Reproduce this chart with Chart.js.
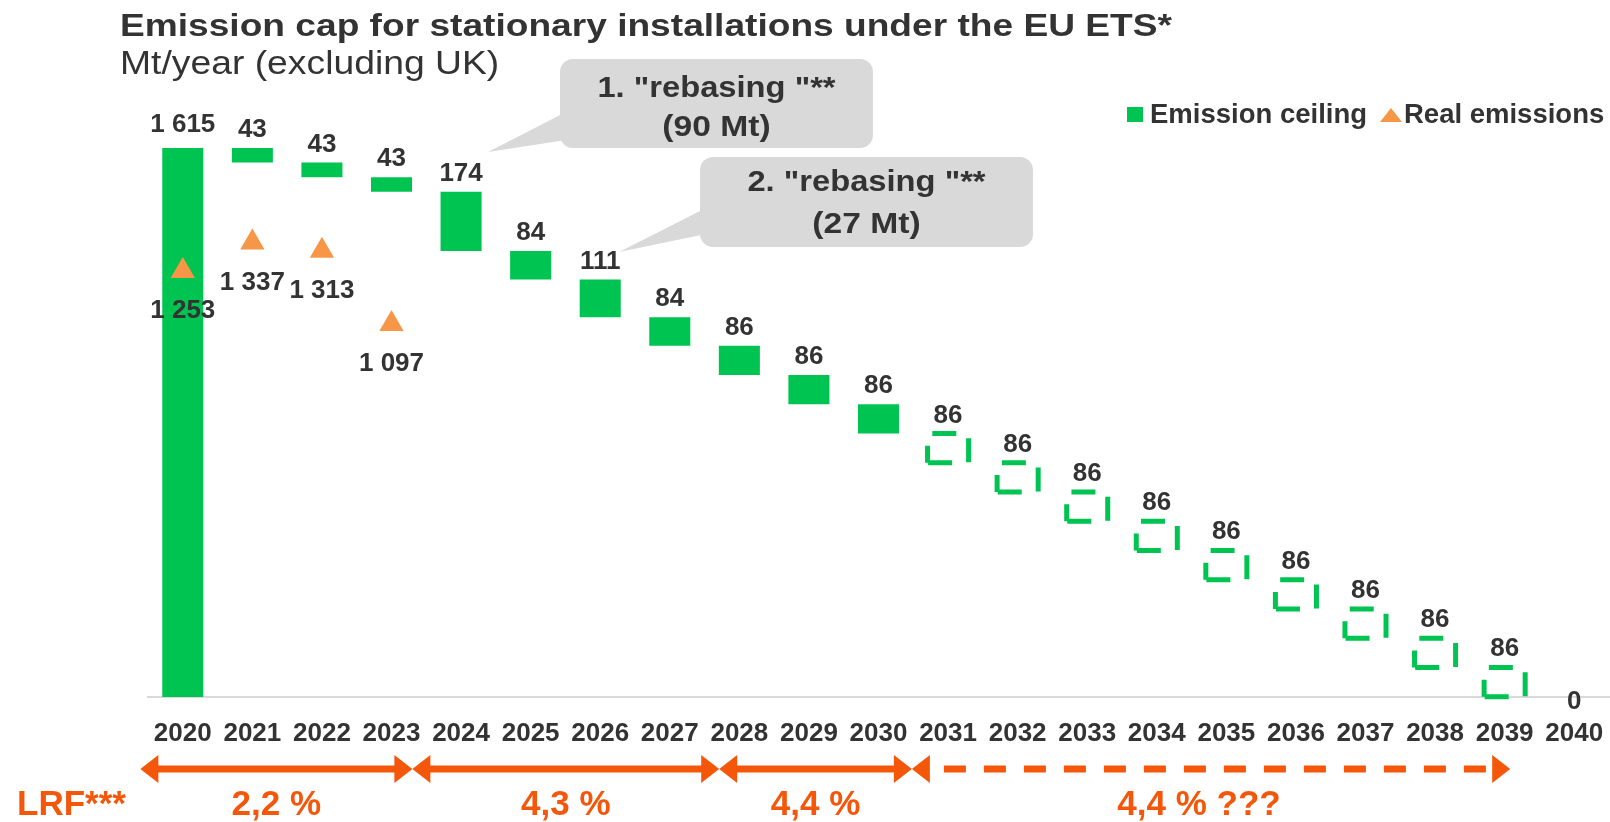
<!DOCTYPE html>
<html>
<head>
<meta charset="utf-8">
<script src="https://cdn.jsdelivr.net/npm/chart.js@4.4.1/dist/chart.umd.min.js"></script>
<style>
  html, body { margin: 0; padding: 0; background: #ffffff; }
  #wrap { width: 1610px; height: 822px; position: relative; }
</style>
</head>
<body>
<div id="wrap"><canvas id="chart" width="1610" height="822"></canvas></div>
<script>
// ---------------- DATA ----------------
const years = ['2020','2021','2022','2023','2024','2025','2026','2027','2028','2029','2030',
               '2031','2032','2033','2034','2035','2036','2037','2038','2039','2040'];
// 2020 = total cap, following years = yearly reduction of the cap (Mt)
const ceilingValues = [1615, 43, 43, 43, 174, 84, 111, 84, 86, 86, 86,
                       86, 86, 86, 86, 86, 86, 86, 86, 86, 0];
const realEmissions = [1253, 1337, 1313, 1097, null, null, null, null, null, null, null,
                       null, null, null, null, null, null, null, null, null, null];
const projectedYears = ['2031','2032','2033','2034','2035','2036','2037','2038','2039'];
const calloutLines = [['1. "rebasing "**', '(90 Mt)'], ['2. "rebasing "**', '(27 Mt)']];
const lrfTitle = 'LRF***';
const lrfLabels = ['2,2 %', '4,3 %', '4,4 %', '4,4 % ???'];

const titleText = 'Emission cap for stationary installations under the EU ETS*';
const subtitleText = 'Mt/year (excluding UK)';
const legendLabels = ['Emission ceiling', 'Real emissions'];

// ---------------- derived table (waterfall) ----------------
let level = ceilingValues[0];
const ceilingBars = years.map((y, i) => {
  if (i === 0) return [0, level];
  const d = ceilingValues[i];
  if (!d) return null;
  const r = [level - d, level];
  level -= d;
  return r;
});

// ---------------- styles ----------------
const GREEN = '#00C451';
const ORANGE_PT = '#F79646';
const ORANGE = '#F4560A';
const TEXT = '#333333';
const FONT = '"Liberation Sans", Arial, sans-serif';

function fmt(n) { return String(n).replace(/\B(?=(\d{3})+(?!\d))/g, ' '); }

function drawText(ctx, text, x, y, font, color, align, sx) {
  ctx.save();
  ctx.font = font;
  ctx.fillStyle = color;
  ctx.textBaseline = 'alphabetic';
  ctx.textAlign = align || 'left';
  ctx.translate(x, y);
  ctx.scale(sx || 1, 1);
  ctx.fillText(text, 0, 0);
  ctx.restore();
}

const labelsPlugin = {
  id: 'labelsPlugin',
  afterDatasetsDraw(chart) {
    const ctx = chart.ctx;
    const xs = chart.scales.x, ys = chart.scales.y;
    const barMeta = chart.getDatasetMeta(1);
    // dashed projected boxes
    barMeta.data.forEach((el, i) => {
      if (!ceilingBars[i] || !projectedYears.includes(years[i])) return;
      const p = el.getProps(['x', 'y', 'base', 'width'], true);
      const l = p.x - p.width / 2, r = p.x + p.width / 2;
      const t = Math.min(p.y, p.base), b = Math.max(p.y, p.base);
      ctx.save();
      ctx.strokeStyle = GREEN;
      ctx.lineWidth = 5;
      ctx.setLineDash([24, 17]);
      ctx.lineDashOffset = 7;
      ctx.beginPath();
      ctx.moveTo(l, b);
      ctx.lineTo(l, t);
      ctx.lineTo(r, t);
      ctx.lineTo(r, b);
      ctx.closePath();
      ctx.stroke();
      ctx.restore();
    });
    // ceiling labels
    ctx.save();
    ctx.font = 'bold 26px ' + FONT;
    ctx.fillStyle = TEXT;
    ctx.textAlign = 'center';
    ctx.textBaseline = 'alphabetic';
    years.forEach((y, i) => {
      const x = xs.getPixelForValue(i);
      if (ceilingBars[i]) {
        const top = ys.getPixelForValue(ceilingBars[i][1]);
        ctx.fillText(fmt(ceilingValues[i]), x, top - (i === 0 ? 16 : 11));
      } else {
        ctx.textBaseline = 'middle';
        ctx.fillText(fmt(ceilingValues[i]), x, ys.getPixelForValue(0) + 5);
        ctx.textBaseline = 'alphabetic';
      }
    });
    // real emission labels
    realEmissions.forEach((v, i) => {
      if (v == null) return;
      const x = xs.getPixelForValue(i);
      const y = ys.getPixelForValue(v);
      ctx.fillText(fmt(v), x, y + 47);
    });
    ctx.restore();
  },
  afterDraw(chart) {
    const ctx = chart.ctx;
    const area = chart.chartArea;
    const catW = (area.right - area.left) / years.length;

    // title & subtitle
    drawText(ctx, titleText, 120, 36, 'bold 32px ' + FONT, TEXT, 'left', 1.16);
    drawText(ctx, subtitleText, 120, 74, '33px ' + FONT, TEXT, 'left', 1.13);

    // legend
    ctx.save();
    ctx.fillStyle = GREEN;
    ctx.fillRect(1127, 107, 16, 15);
    ctx.fillStyle = ORANGE_PT;
    ctx.beginPath();
    ctx.moveTo(1391, 108); ctx.lineTo(1402, 122); ctx.lineTo(1380, 122); ctx.closePath();
    ctx.fill();
    ctx.restore();
    drawText(ctx, legendLabels[0], 1150, 123, 'bold 27.5px ' + FONT, TEXT, 'left', 1);
    drawText(ctx, legendLabels[1], 1404, 123, 'bold 27.5px ' + FONT, TEXT, 'left', 1);

    // callouts
    const callouts = [
      { box: [560, 59, 313, 89], tip: [488, 152], b1: [566, 112], b2: [566, 140], base: [97, 136] },
      { box: [700, 157, 333, 90], tip: [619, 252], b1: [706, 208], b2: [706, 234], base: [191, 233] }
    ];
    callouts.forEach((c, k) => {
      ctx.save();
      ctx.fillStyle = '#D9D9D9';
      ctx.beginPath();
      ctx.roundRect(c.box[0], c.box[1], c.box[2], c.box[3], 13);
      ctx.fill();
      ctx.beginPath();
      ctx.moveTo(c.tip[0], c.tip[1]); ctx.lineTo(c.b1[0], c.b1[1]); ctx.lineTo(c.b2[0], c.b2[1]);
      ctx.closePath();
      ctx.fill();
      ctx.restore();
      const cx = c.box[0] + c.box[2] / 2;
      drawText(ctx, calloutLines[k][0], cx, c.base[0], 'bold 30px ' + FONT, TEXT, 'center', 1.09);
      drawText(ctx, calloutLines[k][1], cx, c.base[1], 'bold 30px ' + FONT, TEXT, 'center', 1.12);
    });

    // LRF arrows
    const stops = [-0.11, 3.80, 8.21, 10.98, 19.58].map(t => area.left + t * catW);
    const ay = 769;
    const headL = 18, headH = 14;
    function head(x, dir) {
      ctx.beginPath();
      ctx.moveTo(x, ay);
      ctx.lineTo(x - dir * headL, ay - headH);
      ctx.lineTo(x - dir * headL, ay + headH);
      ctx.closePath();
      ctx.fill();
    }
    ctx.save();
    ctx.fillStyle = ORANGE;
    ctx.strokeStyle = ORANGE;
    ctx.lineWidth = 7;
    for (let s = 0; s < 4; s++) {
      const a = stops[s], b = stops[s + 1];
      head(a, -1);
      head(b, 1);
      ctx.beginPath();
      if (s === 3) { ctx.setLineDash([22, 18]); ctx.moveTo(a + headL + 14, ay); ctx.lineTo(b - headL, ay); }
      else { ctx.setLineDash([]); ctx.moveTo(a + headL - 1, ay); ctx.lineTo(b - headL + 1, ay); }
      ctx.stroke();
      ctx.setLineDash([]);
      const mid = s === 3 ? (a + b) / 2 - 12 : (a + b) / 2;
      drawText(ctx, lrfLabels[s], mid, 815, 'bold 35px ' + FONT, ORANGE, 'center', 1);
    }
    ctx.restore();
    drawText(ctx, lrfTitle, 17, 815, 'bold 35px ' + FONT, ORANGE, 'left', 1);
  }
};

new Chart(document.getElementById('chart').getContext('2d'), {
  type: 'bar',
  data: {
    labels: years,
    datasets: [
      {
        type: 'line',
        label: legendLabels[1],
        data: realEmissions,
        showLine: false,
        pointStyle: 'triangle',
        pointRadius: 14,
        pointBackgroundColor: ORANGE_PT,
        pointBorderColor: ORANGE_PT,
        pointBorderWidth: 0,
        borderColor: ORANGE_PT,
        clip: false
      },
      {
        type: 'bar',
        label: legendLabels[0],
        data: ceilingBars,
        backgroundColor: (c) => projectedYears.includes(years[c.dataIndex]) ? 'rgba(0,0,0,0)' : GREEN,
        borderWidth: 0,
        barPercentage: 0.59,
        categoryPercentage: 1
      }
    ]
  },
  options: {
    responsive: false,
    animation: false,
    events: [],
    layout: { autoPadding: false, padding: { left: 148, right: 1, top: 148, bottom: 65 } },
    plugins: { legend: { display: false }, tooltip: { enabled: false }, title: { display: false } },
    scales: {
      x: {
        grid: { display: false, drawTicks: true, tickLength: 19 },
        border: { display: true, color: '#D9D9D9', width: 2 },
        ticks: { font: { family: FONT, size: 26, weight: 'bold' }, color: TEXT, padding: 2, maxRotation: 0, autoSkip: false },
        afterFit: (s) => { s.height = 60; s.paddingLeft = 0; s.paddingRight = 0; }
      },
      y: { display: false, min: 0, max: 1615 }
    }
  },
  plugins: [labelsPlugin]
});
</script>
</body>
</html>
